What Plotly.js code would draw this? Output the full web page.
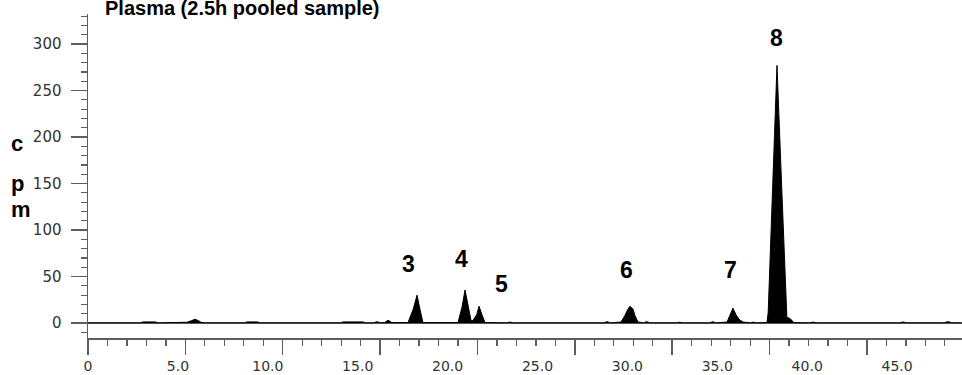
<!DOCTYPE html>
<html>
<head>
<meta charset="utf-8">
<script src="https://cdn.plot.ly/plotly-3.0.1.min.js"></script>
<style>
  html, body { margin: 0; padding: 0; background: #fff; }
  #chart { width: 962px; height: 375px; }
</style>
</head>
<body>
<div id="chart"></div>
<script>
// Retention time (min) and radioactivity (cpm)
const retention = [
  0, 0.5, 0.67, 0.85,
  2.9, 3.06, 3.45, 3.73, 3.9,
  4.3, 4.39, 4.56, 4.73, 4.9,
  5.4, 5.51, 5.75, 5.95, 6.15, 6.28, 6.5,
  8.7, 8.84, 9.12, 9.40, 9.6,
  10.7, 10.85, 11.0,
  12.35, 12.51, 12.65,
  13.2, 13.35, 13.5,
  14.05, 14.18, 14.74, 15.29, 15.45,
  15.9, 16.07, 16.25,
  16.5, 16.69, 16.9,
  17.8, 18.09, 18.30, 18.46, 18.63,
  20.58, 20.80, 20.97, 21.15, 21.30, 21.36, 21.45, 21.62, 21.75, 21.91, 22.08,
  23.3, 23.47, 23.65,
  25.15, 25.31, 25.45,
  26.1, 26.25, 26.4,
  28.7, 28.87, 29.05,
  29.64, 29.86, 30.03, 30.14, 30.31, 30.42, 30.59,
  30.9, 31.07, 31.25,
  32.75, 32.90, 33.05,
  33.7, 33.85, 34.0,
  34.6, 34.74, 34.9,
  35.54, 35.71, 35.87, 36.04, 36.21, 36.43,
  36.85, 36.99, 37.15,
  37.76, 37.83, 38.08, 38.32, 38.58, 38.82, 38.87, 39.04, 39.15, 39.26,
  40.15, 40.32, 40.5,
  43.35, 43.49, 43.65,
  45.15, 45.33, 45.5,
  47.6, 47.83, 48.05, 48.6
];
const cpm = [
  0.3, 0.3, 1.0, 0.3,
  0.3, 1.2, 1.3, 1.2, 0.3,
  0.3, 1.0, 1.1, 1.0, 0.3,
  0.3, 0.8, 2.5, 4.0, 2.5, 0.8, 0.3,
  0.3, 1.2, 1.3, 1.2, 0.3,
  0.3, 1.0, 0.3,
  0.3, 0.9, 0.3,
  0.3, 0.9, 0.3,
  0.3, 1.2, 1.3, 1.2, 0.3,
  0.3, 1.5, 0.3,
  0.5, 3.0, 0.5,
  0.5, 15, 30, 15, 0.5,
  0.5, 17, 35.5, 17, 3, 2, 4, 9, 18, 9, 0.5,
  0.3, 1.0, 0.3,
  0.3, 0.9, 0.3,
  0.3, 1.0, 0.3,
  0.3, 1.5, 0.3,
  1, 8, 15, 18, 15, 8, 1,
  0.3, 1.5, 0.3,
  0.3, 0.9, 0.3,
  0.3, 1.0, 0.3,
  0.3, 1.5, 0.3,
  1, 9, 16, 9, 4, 1,
  0.3, 1.0, 0.3,
  0.5, 11, 147, 277, 147, 11, 6, 5, 3, 0.5,
  0.3, 1.0, 0.3,
  0.3, 0.9, 0.3,
  0.3, 1.2, 0.3,
  0.3, 1.5, 0.3, 0.3
];

// Peak labels
const peakNames = ['3', '4', '5', '6', '7', '8'];
const peakLabelX = [17.85, 20.76, 22.98, 29.96, 35.71, 38.32];
const peakLabelY = [64, 69, 42, 57, 57, 306];

// Axis tick labels
const xTickVals = [0, 5, 10, 15, 20, 25, 30, 35, 40, 45];
const xTickText = ['0', '5.0', '10.0', '15.0', '20.0', '25.0', '30.0', '35.0', '40.0', '45.0'];
const yTickVals = [0, 50, 100, 150, 200, 250, 300];

const titleText = 'Plasma (2.5h pooled sample)';

const axisGray = '#5e5e5e';
const tickFont = {family: 'DejaVu Sans, Verdana, sans-serif', size: 15, color: '#333'};
const xTickFont = {family: 'DejaVu Sans, Verdana, sans-serif', size: 14, color: '#333'};
const boldFont = {family: 'Liberation Sans, Arial, sans-serif', size: 23, color: '#000', weight: 'bold'};

const traces = [{
  x: retention,
  y: cpm,
  type: 'scatter',
  mode: 'lines',
  line: {color: '#000', width: 1},
  fill: 'tozeroy',
  fillcolor: '#000',
  hoverinfo: 'x+y',
  showlegend: false
}, {
  // empty trace so the overlaid tick-mark axis is drawn
  x: [], y: [],
  type: 'scatter', mode: 'lines',
  xaxis: 'x2', yaxis: 'y',
  hoverinfo: 'skip', showlegend: false
}];

const annotations = peakNames.map((t, i) => ({
  x: peakLabelX[i], y: peakLabelY[i], xref: 'x', yref: 'y',
  text: '<b>' + t + '</b>', showarrow: false,
  font: boldFont, xanchor: 'center', yanchor: 'middle'
}));

// y-axis title written vertically, one letter per line
const unitLetters = ['c', 'p', 'm'];
const unitY = [193.5, 150.5, 122.5];
unitLetters.forEach((t, i) => annotations.push({
  x: -0.0892, y: unitY[i], xref: 'paper', yref: 'y',
  text: '<b>' + t + '</b>', showarrow: false,
  font: {family: 'Liberation Sans, Arial, sans-serif', size: 22, color: '#000'},
  xanchor: 'left', yanchor: 'middle', borderpad: 0
}));

const layout = {
  width: 962, height: 375,
  margin: {l: 88, r: 0, t: 14, b: 37, pad: 0},
  paper_bgcolor: '#fff', plot_bgcolor: '#fff',
  title: {
    text: '<b>' + titleText + '</b>',
    font: {family: 'Liberation Sans, Arial, sans-serif', size: 20, color: '#000'},
    x: 105 / 962, xref: 'container', xanchor: 'left',
    y: 1 - 8 / 375, yref: 'container', yanchor: 'middle'
  },
  xaxis: {
    range: [0, 48.61],
    showline: false, zeroline: false, showgrid: false,
    ticks: '',
    tickmode: 'array', tickvals: xTickVals, ticktext: xTickText,
    tickfont: xTickFont,
    ticklabelstandoff: 18,
    fixedrange: true
  },
  xaxis2: {
    overlaying: 'x', anchor: 'y', side: 'bottom',
    range: [0, 44.88],
    showline: true, linecolor: axisGray, linewidth: 1.5,
    zeroline: false, showgrid: false,
    ticks: 'outside', ticklen: 15, tickwidth: 1.5, tickcolor: axisGray,
    tick0: 0, dtick: 5,
    showticklabels: false,
    minor: {ticks: 'outside', dtick: 1, ticklen: 6, tickwidth: 1.2, tickcolor: axisGray, showgrid: false},
    fixedrange: true
  },
  yaxis: {
    range: [-16.1, 332.3],
    showline: true, linecolor: axisGray, linewidth: 1.5,
    showgrid: false,
    zeroline: true, zerolinecolor: '#555', zerolinewidth: 1,
    ticks: 'outside', ticklen: 16, tickwidth: 1.5, tickcolor: axisGray,
    tickmode: 'array', tickvals: yTickVals,
    minor: {ticks: 'outside', dtick: 10, tick0: 0, ticklen: 6, tickwidth: 1.2, tickcolor: axisGray, showgrid: false},
    tickfont: tickFont,
    ticklabelstandoff: 6,
    fixedrange: true
  },
  annotations: annotations,
  showlegend: false
};

Plotly.newPlot('chart', traces, layout, {displayModeBar: false, staticPlot: true});
</script>
</body>
</html>
